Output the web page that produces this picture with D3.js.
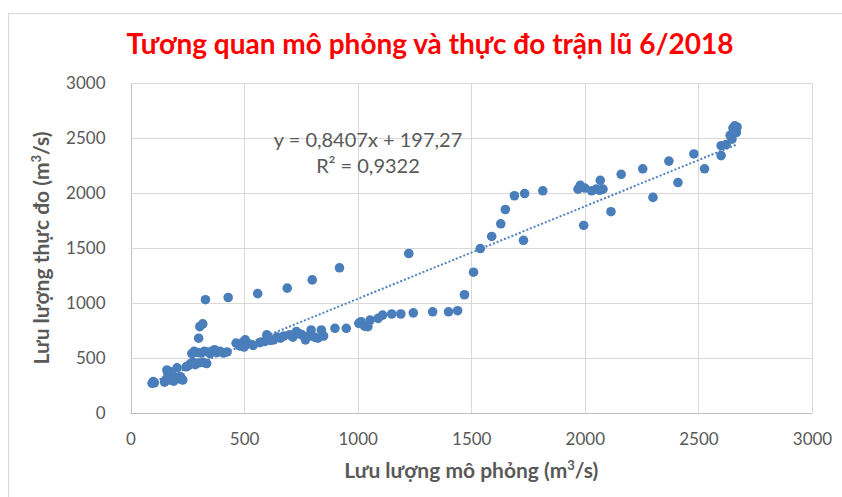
<!DOCTYPE html>
<html>
<head>
<meta charset="utf-8">
<script src="https://cdn.jsdelivr.net/npm/d3@7"></script>
<style>
  body { margin: 0; background: #fff; }
  text { font-family: Lato, "Noto Sans", sans-serif; }
</style>
</head>
<body>
<div id="chart"></div>
<script>
// simulated discharge (x) and observed discharge (y), m3/s
var simQ = [95, 105, 100, 150, 155, 160, 165, 170, 175, 185, 190, 200, 205, 215, 220, 230,
  245, 255, 265, 275, 285, 300, 320, 335, 270, 280, 295, 310, 325, 340, 360, 380, 395, 410,
  425, 350, 370, 300, 305, 318, 330, 430, 465, 480, 495, 500, 505, 520, 540, 560, 570, 590,
  600, 615, 630, 645, 660, 675, 690, 700, 715, 730, 745, 755, 770, 785, 795, 800, 810, 825,
  840, 850, 900, 920, 950, 1005, 1015, 1030, 1045, 1055, 1090, 1110, 1150, 1190, 1225, 1245,
  1330, 1400, 1440, 1470, 1510, 1540, 1590, 1630, 1650, 1690, 1730, 1735, 1815, 1970, 1980,
  1995, 2000, 2030, 2050, 2065, 2068, 2080, 2115, 2160, 2255, 2300, 2370, 2410, 2480, 2527,
  2600, 2600, 2622, 2640, 2648, 2652, 2660, 2667, 2655, 2670];
var obsQ = [270, 275, 285, 280, 300, 390, 350, 380, 300, 330, 290, 320, 410, 310, 330, 300,
  420, 430, 450, 460, 440, 455, 460, 450, 540, 560, 550, 545, 560, 555, 560, 550, 560, 545,
  555, 540, 575, 680, 785, 810, 1030, 1050, 635, 610, 645, 600, 665, 630, 615, 1085, 640, 650,
  710, 660, 665, 690, 680, 700, 1135, 710, 690, 740, 720, 710, 665, 700, 755, 1210, 690, 680,
  755, 700, 770, 1320, 770, 815, 830, 790, 785, 845, 860, 890, 900, 900, 1450, 910,
  920, 920, 930, 1075, 1280, 1495, 1605, 1720, 1850, 1975, 1570, 1995, 2020, 2035, 2070,
  1705, 2045, 2020, 2035, 2025, 2115, 2035, 1830, 2170, 2220, 1960, 2290, 2095, 2355, 2220,
  2430, 2340, 2440, 2525, 2490, 2590, 2610, 2550, 2560, 2600];
var ticks = [0, 500, 1000, 1500, 2000, 2500, 3000];
var slope = 0.8407, intercept = 197.27;
var eqLines = ["y = 0,8407x + 197,27", "R² = 0,9322"];
var title = "Tương quan mô phỏng và thực đo trận lũ 6/2018";

var W = 842, H = 497;
var margin = { top: 83, left: 130.5, bottom: 84, right: 30 };

var svg = d3.select("#chart").append("svg")
    .attr("width", W)
    .attr("height", H);

// outer chart border
svg.append("rect")
    .attr("x", 8.5).attr("y", 13.5)
    .attr("width", W + 20).attr("height", H + 20)
    .attr("fill", "none")
    .attr("stroke", "#d9d9d9");

var x = d3.scaleLinear().domain([0, 3000]).range([margin.left, W - margin.right]);
var y = d3.scaleLinear().domain([0, 3000]).range([H - margin.bottom, margin.top]);

// gridlines
var grid = svg.append("g");
grid.selectAll(".gx").data(ticks).enter().append("line")
    .attr("x1", function(d) { return Math.round(x(d)) + 0.5; })
    .attr("x2", function(d) { return Math.round(x(d)) + 0.5; })
    .attr("y1", y(0)).attr("y2", y(3000))
    .attr("stroke", function(d) { return d === 0 ? "#bfbfbf" : "#d9d9d9"; });
grid.selectAll(".gy").data(ticks).enter().append("line")
    .attr("y1", function(d) { return Math.round(y(d)) + 0.5; })
    .attr("y2", function(d) { return Math.round(y(d)) + 0.5; })
    .attr("x1", x(0)).attr("x2", x(3000))
    .attr("stroke", function(d) { return d === 0 ? "#bfbfbf" : "#d9d9d9"; });

// tick labels
var xAxis = svg.append("g")
    .attr("transform", "translate(0," + (y(0) + 17) + ")")
    .call(d3.axisBottom(x).tickValues(ticks).tickSize(0).tickFormat(d3.format("d")));
var yAxis = svg.append("g")
    .attr("transform", "translate(" + (x(0) - 22) + ",0)")
    .call(d3.axisLeft(y).tickValues(ticks).tickSize(0).tickFormat(d3.format("d")));
[xAxis, yAxis].forEach(function(a) {
  a.select(".domain").remove();
  a.selectAll("text")
    .attr("fill", "#595959")
    .style("font-size", "17px")
    .style("font-family", "Lato, sans-serif");
});

// trendline y = slope*x + intercept over the data range
var xr = d3.extent(simQ);
svg.append("line")
    .attr("x1", x(xr[0])).attr("y1", y(slope * xr[0] + intercept))
    .attr("x2", x(xr[1])).attr("y2", y(slope * xr[1] + intercept))
    .attr("stroke", "#4f81bd")
    .attr("stroke-width", 2)
    .attr("stroke-dasharray", "2,2");

// points
svg.append("g").selectAll("circle")
    .data(simQ.map(function(d, i) { return [d, obsQ[i]]; }))
    .enter().append("circle")
    .attr("cx", function(d) { return x(d[0]); })
    .attr("cy", function(d) { return y(d[1]); })
    .attr("r", 4.8)
    .attr("fill", "#4a7ebb");

// equation
svg.append("g").selectAll("text")
    .data(eqLines)
    .enter().append("text")
    .attr("x", 368)
    .attr("y", function(d, i) { return 147 + i * 26; })
    .attr("text-anchor", "middle")
    .attr("fill", "#595959")
    .style("font-size", "20px")
    .text(function(d) { return d; });

// title
svg.append("text")
    .attr("x", 430).attr("y", 54)
    .attr("text-anchor", "middle")
    .attr("fill", "#ff0000")
    .style("font-size", "28px")
    .style("font-weight", "bold")
    .text(title);

// axis titles
var xt = svg.append("text")
    .attr("x", (x(0) + x(3000)) / 2).attr("y", 478)
    .attr("text-anchor", "middle")
    .attr("fill", "#595959")
    .style("font-size", "21px")
    .style("font-weight", "bold");
xt.append("tspan").text("Lưu lượng mô phỏng (m");
xt.append("tspan").attr("dy", -8).style("font-size", "13px").text("3");
xt.append("tspan").attr("dy", 8).text("/s)");

var yt = svg.append("text")
    .attr("transform", "translate(49," + (y(0) + y(3000)) / 2 + ") rotate(-90)")
    .attr("text-anchor", "middle")
    .attr("fill", "#595959")
    .style("font-size", "21px")
    .style("font-weight", "bold");
yt.append("tspan").text("Lưu lượng thực đo (m");
yt.append("tspan").attr("dy", -8).style("font-size", "13px").text("3");
yt.append("tspan").attr("dy", 8).text("/s)");
</script>
</body>
</html>
